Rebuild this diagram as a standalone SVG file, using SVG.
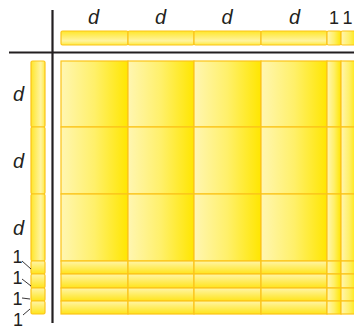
<svg xmlns="http://www.w3.org/2000/svg" width="354" height="326" viewBox="0 0 354 326">
<defs>
<linearGradient id="gh" x1="0" y1="0" x2="1" y2="0">
<stop offset="0" stop-color="#FFF6B2"/>
<stop offset="0.5" stop-color="#FFF06A"/>
<stop offset="1" stop-color="#FFE600"/>
</linearGradient>
<linearGradient id="gv" x1="0" y1="0" x2="0" y2="1">
<stop offset="0" stop-color="#FFF5A8"/>
<stop offset="1" stop-color="#FFE41A"/>
</linearGradient>
<linearGradient id="gbar" x1="0" y1="0" x2="0" y2="1">
<stop offset="0" stop-color="#FFE62A"/>
<stop offset="0.7" stop-color="#FFF4A0"/>
<stop offset="1" stop-color="#FFEA40"/>
</linearGradient>
<linearGradient id="gbarv" x1="0" y1="0" x2="1" y2="0">
<stop offset="0" stop-color="#FFE62A"/>
<stop offset="0.7" stop-color="#FFF4A0"/>
<stop offset="1" stop-color="#FFEA40"/>
</linearGradient>
</defs>
<style>
.c{stroke:#FCC419;stroke-width:1.2}
.big{fill:url(#gh)}
.strip{fill:url(#gv)}
.tb{fill:url(#gbar)}
.lb{fill:url(#gbarv)}
.axis{stroke:#231F20;stroke-width:2.2;fill:none}
.lead{stroke:#231F20;stroke-width:0.9;fill:none}
.t{font-family:"Liberation Sans",Arial,sans-serif;font-size:19px;fill:#231F20}
.n{font-size:18px}
.i{font-style:italic;font-size:20px}
</style>
<g id="axes">
<line class="axis" x1="52.5" y1="10" x2="52.5" y2="323"/>
<line class="axis" x1="9" y1="52.5" x2="354" y2="52.5"/>
</g>
<g id="top-bar">
<rect class="c tb" x="61" y="31" width="67" height="14" rx="1.5"/>
<rect class="c tb" x="128" y="31" width="66" height="14" rx="1.5"/>
<rect class="c tb" x="194" y="31" width="67" height="14" rx="1.5"/>
<rect class="c tb" x="261" y="31" width="66" height="14" rx="1.5"/>
<rect class="c big" x="327" y="31" width="14" height="14" rx="1.5"/>
<rect class="c big" x="341" y="31" width="16" height="14" rx="1.5"/>
</g>
<g id="left-bar">
<rect class="c lb" x="31" y="61" width="14" height="66" rx="1.5"/>
<rect class="c lb" x="31" y="127" width="14" height="67" rx="1.5"/>
<rect class="c lb" x="31" y="194" width="14" height="67" rx="1.5"/>
<rect class="c strip" x="31" y="261" width="14" height="13" rx="1.5"/>
<rect class="c strip" x="31" y="274" width="14" height="14" rx="1.5"/>
<rect class="c strip" x="31" y="288" width="14" height="13" rx="1.5"/>
<rect class="c strip" x="31" y="301" width="14" height="13" rx="1.5"/>
</g>
<g id="grid">
<rect class="c big" x="61" y="61" width="67" height="66"/>
<rect class="c big" x="128" y="61" width="66" height="66"/>
<rect class="c big" x="194" y="61" width="67" height="66"/>
<rect class="c big" x="261" y="61" width="66" height="66"/>
<rect class="c big" x="327" y="61" width="14" height="66"/>
<rect class="c big" x="341" y="61" width="16" height="66"/>
<rect class="c big" x="61" y="127" width="67" height="67"/>
<rect class="c big" x="128" y="127" width="66" height="67"/>
<rect class="c big" x="194" y="127" width="67" height="67"/>
<rect class="c big" x="261" y="127" width="66" height="67"/>
<rect class="c big" x="327" y="127" width="14" height="67"/>
<rect class="c big" x="341" y="127" width="16" height="67"/>
<rect class="c big" x="61" y="194" width="67" height="67"/>
<rect class="c big" x="128" y="194" width="66" height="67"/>
<rect class="c big" x="194" y="194" width="67" height="67"/>
<rect class="c big" x="261" y="194" width="66" height="67"/>
<rect class="c big" x="327" y="194" width="14" height="67"/>
<rect class="c big" x="341" y="194" width="16" height="67"/>
<rect class="c strip" x="61" y="261" width="67" height="13"/>
<rect class="c strip" x="128" y="261" width="66" height="13"/>
<rect class="c strip" x="194" y="261" width="67" height="13"/>
<rect class="c strip" x="261" y="261" width="66" height="13"/>
<rect class="c big" x="327" y="261" width="14" height="13"/>
<rect class="c big" x="341" y="261" width="16" height="13"/>
<rect class="c strip" x="61" y="274" width="67" height="14"/>
<rect class="c strip" x="128" y="274" width="66" height="14"/>
<rect class="c strip" x="194" y="274" width="67" height="14"/>
<rect class="c strip" x="261" y="274" width="66" height="14"/>
<rect class="c big" x="327" y="274" width="14" height="14"/>
<rect class="c big" x="341" y="274" width="16" height="14"/>
<rect class="c strip" x="61" y="288" width="67" height="13"/>
<rect class="c strip" x="128" y="288" width="66" height="13"/>
<rect class="c strip" x="194" y="288" width="67" height="13"/>
<rect class="c strip" x="261" y="288" width="66" height="13"/>
<rect class="c big" x="327" y="288" width="14" height="13"/>
<rect class="c big" x="341" y="288" width="16" height="13"/>
<rect class="c strip" x="61" y="301" width="67" height="13"/>
<rect class="c strip" x="128" y="301" width="66" height="13"/>
<rect class="c strip" x="194" y="301" width="67" height="13"/>
<rect class="c strip" x="261" y="301" width="66" height="13"/>
<rect class="c big" x="327" y="301" width="14" height="13"/>
<rect class="c big" x="341" y="301" width="16" height="13"/>
</g>
<g id="connectors">
<line class="lead" x1="22" y1="261" x2="31" y2="269"/>
<line class="lead" x1="22" y1="279" x2="31" y2="286"/>
<line class="lead" x1="22" y1="298" x2="30" y2="299"/>
<line class="lead" x1="23" y1="315" x2="30" y2="309"/>
</g>
<g id="labels">
<text class="t i" x="93.5" y="24" text-anchor="middle">d</text>
<text class="t i" x="160.5" y="24" text-anchor="middle">d</text>
<text class="t i" x="227" y="24" text-anchor="middle">d</text>
<text class="t i" x="294.5" y="24" text-anchor="middle">d</text>
<text class="t n" x="334" y="24" text-anchor="middle">1</text>
<text class="t n" x="347.5" y="24" text-anchor="middle">1</text>
<text class="t i" x="18.5" y="101" text-anchor="middle">d</text>
<text class="t i" x="18.5" y="168" text-anchor="middle">d</text>
<text class="t i" x="18.5" y="235" text-anchor="middle">d</text>
<text class="t n" x="17.5" y="263" text-anchor="middle">1</text>
<text class="t n" x="17.5" y="284" text-anchor="middle">1</text>
<text class="t n" x="17.5" y="305" text-anchor="middle">1</text>
<text class="t n" x="18" y="326" text-anchor="middle">1</text>
</g>
</svg>
